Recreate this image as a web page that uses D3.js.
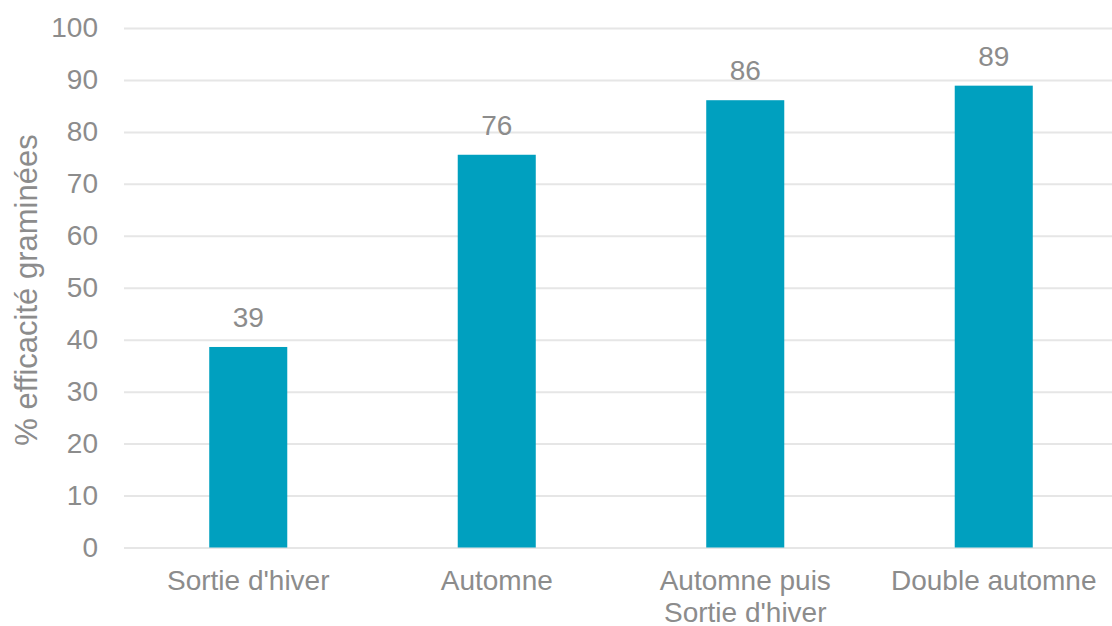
<!DOCTYPE html>
<meta charset="utf-8">
<style>
  body { margin: 0; background: #fff; }
  svg { display: block; }
</style>
<body>
<script src="https://d3js.org/d3.v7.min.js"></script>
<script>

// Chart data.

var categories = [["Sortie d'hiver"], ["Automne"], ["Automne puis", "Sortie d'hiver"], ["Double automne"]];
var values = [38.6, 75.6, 86.1, 88.9];
var yTicks = [0, 10, 20, 30, 40, 50, 60, 70, 80, 90, 100];
var yTitle = "% efficacité graminées";

var width = 1112,
    height = 626;

// Plot area (note: "top" is reserved on window, so use a margin object).

var plot = { x0: 124, x1: 1118, y0: 28, y1: 547.5 };

var textColor = "#8c8c8c",
    font = "'Liberation Sans', Arial, sans-serif";

var svg = d3.select("body").append("svg")
    .attr("width", width)
    .attr("height", height);

var x = d3.scaleBand()
    .domain(d3.range(categories.length))
    .range([plot.x0, plot.x1])
    .paddingInner(0.686)
    .paddingOuter(0.343);

var y = d3.scaleLinear()
    .domain([0, 100])
    .range([plot.y1, plot.y0]);

// Gridlines and tick labels.

var yAxis = svg.append("g")
    .attr("transform", "translate(" + plot.x0 + ",0)")
    .call(d3.axisLeft(y).tickValues(yTicks).tickSize(-(width - plot.x0)).tickPadding(26));

yAxis.select(".domain").remove();
yAxis.selectAll(".tick line")
    .attr("stroke", "#e6e6e6")
    .attr("stroke-width", 2);
yAxis.selectAll(".tick text")
    .attr("fill", textColor)
    .attr("font-family", font)
    .attr("font-size", "28px");

// Bars.

svg.append("g").selectAll("rect")
    .data(values)
    .join("rect")
    .attr("x", function(d, i) { return x(i); })
    .attr("y", function(d) { return y(d); })
    .attr("width", x.bandwidth())
    .attr("height", function(d) { return y(0) - y(d); })
    .attr("fill", "#00a0bf");

// Value labels.

svg.append("g").selectAll("text")
    .data(values)
    .join("text")
    .attr("x", function(d, i) { return x(i) + x.bandwidth() / 2; })
    .attr("y", function(d) { return y(d) - 20; })
    .attr("text-anchor", "middle")
    .attr("fill", textColor)
    .attr("font-family", font)
    .attr("font-size", "28px")
    .text(function(d) { return d3.format(".0f")(d); });

// Category labels.

var cats = svg.append("g").selectAll("text")
    .data(categories)
    .join("text")
    .attr("x", function(d, i) { return x(i) + x.bandwidth() / 2; })
    .attr("y", 590)
    .attr("text-anchor", "middle")
    .attr("fill", textColor)
    .attr("font-family", font)
    .attr("font-size", "28px");

cats.selectAll("tspan")
    .data(function(d) { return d; })
    .join("tspan")
    .attr("x", function() { return d3.select(this.parentNode).attr("x"); })
    .attr("dy", function(d, i) { return i ? 32 : 0; })
    .text(function(d) { return d; });

// Y axis title.

svg.append("text")
    .attr("transform", "translate(37,290) rotate(-90)")
    .attr("text-anchor", "middle")
    .attr("fill", textColor)
    .attr("font-family", font)
    .attr("font-size", "31px")
    .text(yTitle);

</script>
</body>
</html>
